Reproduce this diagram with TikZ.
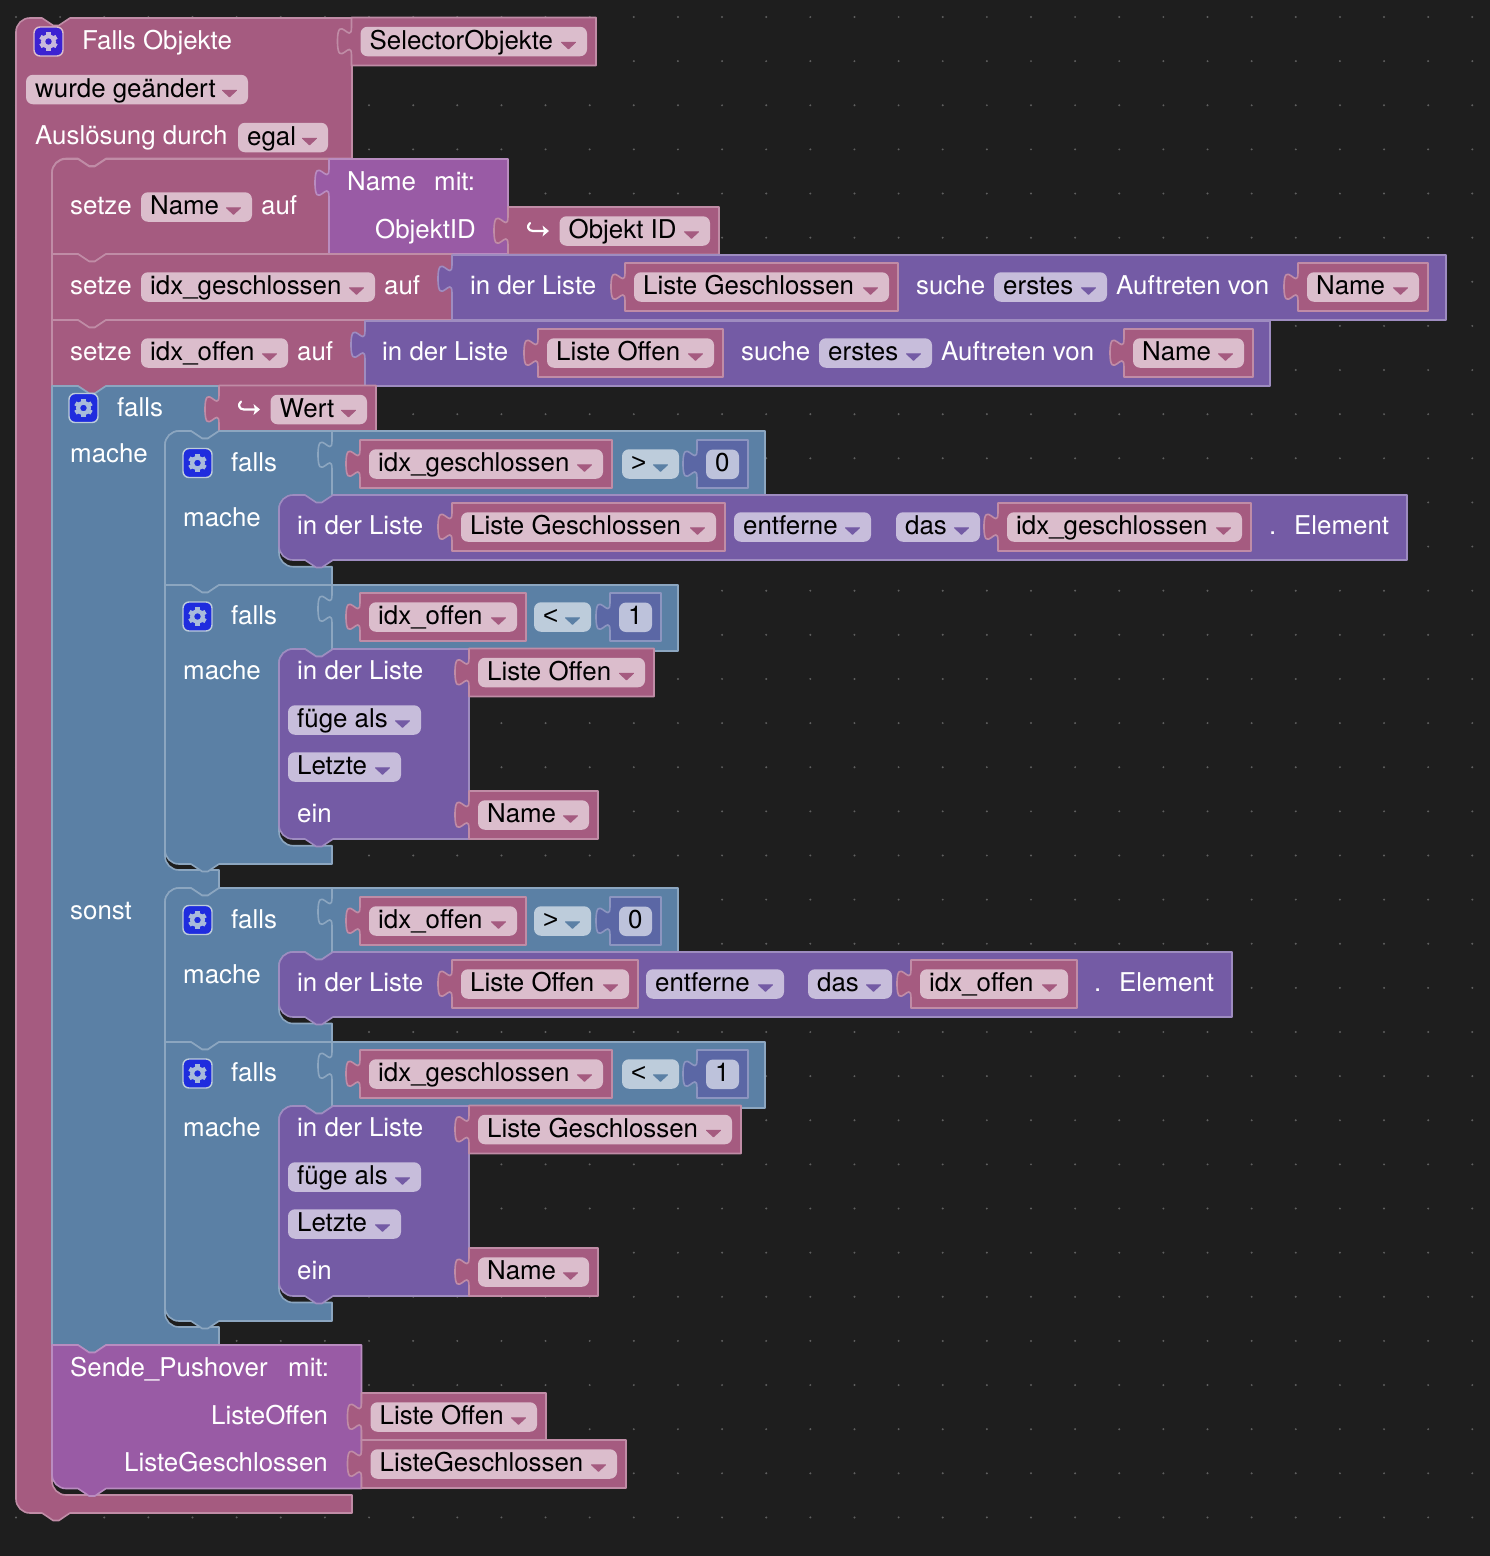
\documentclass[tikz,border=0pt]{standalone}
\usepackage{fontspec}
\setmainfont{TeX Gyre Heros}
\newfontfamily\opfont{Liberation Sans}
\usetikzlibrary{calc}
\definecolor{bgdark}{HTML}{1E1E1E}
\definecolor{griddot}{HTML}{5F5F5F}
\definecolor{pinkF}{HTML}{A55B80}\definecolor{pinkS}{HTML}{C08CA6}\definecolor{pinkL}{HTML}{DBBDCC}
\definecolor{blueF}{HTML}{5B80A5}\definecolor{blueS}{HTML}{8CA6C0}\definecolor{blueL}{HTML}{BDCCDB}
\definecolor{listF}{HTML}{745BA5}\definecolor{listS}{HTML}{9E8CC0}\definecolor{listL}{HTML}{C7BDDB}
\definecolor{procF}{HTML}{995BA5}\definecolor{procS}{HTML}{B98CC0}
\definecolor{numF}{HTML}{5B67A5}\definecolor{numS}{HTML}{8C95C0}\definecolor{numL}{HTML}{BDC2DB}
\definecolor{gearPinkBg}{HTML}{3C22D2}\definecolor{gearPinkFg}{HTML}{C9B9DC}
\definecolor{gearBlueBg}{HTML}{1F2CDE}\definecolor{gearBlueFg}{HTML}{A9BBDA}
\tikzset{
  pinkblock/.style={fill=pinkF,draw=pinkS,line width=1.6pt,line join=round},
  blueblock/.style={fill=blueF,draw=blueS,line width=1.6pt,line join=round},
  listblock/.style={fill=listF,draw=listS,line width=1.6pt,line join=round},
  procblock/.style={fill=procF,draw=procS,line width=1.6pt,line join=round},
  numblock/.style={fill=numF,draw=numS,line width=1.6pt,line join=round},
  labeltext/.style={inner sep=0pt,anchor=base west,text=white,font=\fontsize{25.87}{30}\selectfont},
  fieldtext/.style={inner sep=0pt,anchor=base west,text=black,font=\fontsize{25.87}{30}\selectfont},
}
\newcounter{nodeno}
% Path pieces: connection notches, puzzle tab and corners
\def\NotchR{-- ++(11.2,7.5) -- ++(5.6,0) -- ++(11.2,-7.5)}
\def\NotchL{-- ++(-11.2,7.5) -- ++(-5.6,0) -- ++(-11.2,-7.5)}
\def\TabUp{.. controls +(0,-19) and +(0,29.45) .. ++(-14,-14.25) .. controls +(0,-29.45) and +(0,19) .. ++(14,-14.25)}
\def\TLr#1#2{(#1,#2+14) .. controls +(0,-7.7) and +(-7.7,0) .. ++(14,-14) -- (#1+26,#2)}
\def\TLs#1#2{(#1,#2) -- (#1+26,#2)}
\def\BLr#1#2{-- (#1+54,#2) \NotchL -- (#1+14,#2) .. controls +(-7.7,0) and +(0,7.7) .. ++(-14,-14) -- cycle}
\def\BLs#1#2{-- (#1+54,#2) \NotchL -- (#1,#2) -- cycle}
\def\Gap#1#2#3{-- (#1+54,#2) \NotchL -- (#1+14,#2) .. controls +(-7.7,0) and +(0,-7.7) .. ++(-14,14) -- (#1,#3-14) .. controls +(0,7.7) and +(-7.7,0) .. ++(14,14)}
% Plain statement block: x, top, right, bottom, style, top-left r/s, bottom-left r/s
\newcommand\StmtBlock[7]{%
  \expandafter\let\expandafter\tmpTop\csname TL#6\endcsname
  \expandafter\let\expandafter\tmpBot\csname BL#7\endcsname
  \draw[#5] \tmpTop{#1}{#2} \NotchR -- (#3,#2) -- (#3,#4) \tmpBot{#1}{#4};}
% Value block with a puzzle tab on its left edge
\newcommand\ValBlock[5]{\draw[#5] (#1,#2) -- (#3,#2) -- (#3,#4) -- (#1,#4) -- (#1,#2+38) \TabUp -- cycle;}
% Text
\newcommand\Lbl[3]{\stepcounter{nodeno}\node[labeltext] (n\arabic{nodeno}) at (#1,#2+8) {#3};}
% Dropdown field: left, right, centre y, text, field colour, arrow colour
\newcommand\Fld[6]{%
  \fill[#5,rounded corners=7pt] (#1,#3-14.75) rectangle (#2,#3+14.75);
  \stepcounter{nodeno}\node[fieldtext] (n\arabic{nodeno}) at (#1+9,#3+7.5) {#4};
  \filldraw[#6,line width=1pt,line join=round] (#2-25.5,#3+.8) -- (#2-11.5,#3+.8) -- (#2-18.5,#3+7.3) -- cycle;}
\newcommand\PF[4]{\Fld{#1}{#2}{#3}{#4}{pinkL}{pinkF}}
\newcommand\BF[4]{\Fld{#1}{#2}{#3}{#4}{blueL}{blueF}}
\newcommand\LF[4]{\Fld{#1}{#2}{#3}{#4}{listL}{listF}}
% Variable reporter: left, right, top, name
\newcommand\Var[4]{\ValBlock{#1}{#3}{#2}{#3+48}{pinkblock}\PF{#1+9}{#2-9}{#3+24}{#4}}
% Argument reporter with the return-arrow icon
\newcommand\ArgVar[4]{\ValBlock{#1}{#3}{#2}{#3+47.5}{pinkblock}%
  \draw[white,line width=2.2pt,line cap=round,line join=round] (#1+22,#3+16) .. controls (#1+18.5,#3+19) and (#1+20,#3+24) .. (#1+25,#3+24) -- (#1+36,#3+24);
  \fill[white] (#1+41,#3+24) -- (#1+34.5,#3+18.5) -- (#1+36,#3+24) -- (#1+34.5,#3+29.5) -- cycle;
  \PF{#1+51.5}{#2-9}{#3+24}{#4}}
% Number block: left, top, digit
\newcommand\Num[3]{\ValBlock{#1}{#2}{#1+51}{#2+48}{numblock}%
  \fill[numL,rounded corners=7pt] (#1+9,#2+9.5) rectangle (#1+42,#2+39);
  \stepcounter{nodeno}\node[fieldtext] (n\arabic{nodeno}) at (#1+18,#2+31.5) {#3};}
% Gear button: left, centre y, background colour, gear colour, border colour
\newcommand\Gear[5]{%
  \filldraw[fill=#3,draw=#5,line width=1.4pt,rounded corners=6pt] (#1,#2-14.5) rectangle (#1+29,#2+14.5);
  \draw[#4,line width=4pt] (#1+14.5,#2) circle[radius=5.5pt];
  \foreach \a in {30,90,...,330}{\draw[#4,line width=4.4pt] ($(#1+14.5,#2)+(\a:6pt)$) -- ($(#1+14.5,#2)+(\a:9.3pt)$);}}
\begin{document}
\begin{tikzpicture}[x=1pt,y=-1pt]
\useasboundingbox (0,0) rectangle (1490,1556);
\fill[bgdark] (0,0) rectangle (1490,1556);
% Workspace grid
\foreach \i in {0,...,33}{\foreach \j in {0,...,34}{
  \fill[griddot] (16+44.13*\i,17+44.13*\j) circle[radius=1.1pt];}}

% Event block with its statement area
\draw[pinkblock] \TLr{16}{18} \NotchR -- (352,18) -- (352,158.5) \Gap{52}{158.5}{1495} -- (352,1495) -- (352,1513) \BLr{16}{1513};
\Gear{34}{41.5}{gearPinkBg}{gearPinkFg}{pinkL}
\Lbl{82}{41}{Falls Objekte}
\Var{351.5}{596}{17.5}{SelectorObjekte}
\PF{26}{248}{89.5}{wurde geändert}
\Lbl{35}{136}{Auslösung durch}
\PF{238}{328}{137.5}{egal}

% First assignment
\StmtBlock{52}{159}{329}{254}{pinkblock}{r}{s}
\Lbl{70}{206.5}{setze}
\PF{141}{252}{207}{Name}
\Lbl{261}{206.5}{auf}
\ValBlock{329}{159}{508}{254}{procblock}
\Lbl{347}{182}{Name}
\Lbl{434}{182}{mit:}
\Lbl{375}{230.5}{ObjektID}
\ArgVar{508}{719}{207}{Objekt ID}

% Second assignment
\StmtBlock{52}{254}{452}{320}{pinkblock}{s}{s}
\Lbl{70}{286}{setze}
\PF{141}{375}{287}{idx\_geschlossen}
\Lbl{384}{286}{auf}
\ValBlock{452}{255}{1446}{320}{listblock}
\Lbl{470}{286}{in der Liste}
\Var{625}{898}{263}{Liste Geschlossen}
\Lbl{916}{286}{suche}
\LF{994}{1107}{287}{erstes}
\Lbl{1116}{286}{Auftreten von}
\Var{1298}{1428}{263}{Name}

% Third assignment
\StmtBlock{52}{320}{365}{386}{pinkblock}{s}{s}
\Lbl{70}{352}{setze}
\PF{141}{288}{353}{idx\_offen}
\Lbl{297}{352}{auf}
\ValBlock{365}{321}{1270}{386}{listblock}
\Lbl{382}{352}{in der Liste}
\Var{538}{723}{329}{Liste Offen}
\Lbl{741}{352}{suche}
\LF{819}{932}{353}{erstes}
\Lbl{941}{352}{Auftreten von}
\Var{1124}{1253}{329}{Name}

% Outer if/else
\draw[blueblock] \TLs{52}{386} \NotchR -- (219,386) -- (219,431) \Gap{165}{431}{870} -- (219,870) -- (219,888) \Gap{165}{888}{1327} -- (219,1327) -- (219,1345) \BLs{52}{1345};
\Gear{69}{408}{gearBlueBg}{gearBlueFg}{blueL}
\Lbl{117}{408}{falls}
\Lbl{70}{454}{mache}
\Lbl{70}{911}{sonst}
\ArgVar{219}{376}{385.5}{Wert}

% if idx_geschlossen > 0
\draw[blueblock] \TLr{165}{431} \NotchR -- (332,431) -- (332,495.5) \Gap{279}{495.5}{566.7} -- (332,566.7) -- (332,585) \BLs{165}{585};
\Gear{183}{463}{gearBlueBg}{gearBlueFg}{blueL}
\Lbl{231}{463}{falls}
\Lbl{183}{518}{mache}
\ValBlock{332}{431}{765}{497}{blueblock}
\Var{360}{612}{440}{idx\_geschlossen}
\BF{622}{679}{464}{\opfont >}
\Num{697}{440}{0}
\StmtBlock{279}{495}{1407}{560}{listblock}{r}{r}
\Lbl{297}{526.5}{in der Liste}
\Var{452}{725}{503}{Liste Geschlossen}
\LF{734}{871}{527}{entferne}
\LF{896}{980}{527}{das}
\Var{998}{1251}{503}{idx\_geschlossen}
\Lbl{1269}{526.5}{.}
\Lbl{1294}{526.5}{Element}

% if idx_offen < 1
\draw[blueblock] \TLs{165}{585} \NotchR -- (332,585) -- (332,649) \Gap{279}{649}{845.7} -- (332,845.7) -- (332,864) \BLr{165}{864};
\Gear{183}{616.5}{gearBlueBg}{gearBlueFg}{blueL}
\Lbl{231}{616.5}{falls}
\Lbl{183}{671}{mache}
\ValBlock{332}{585}{678}{651}{blueblock}
\Var{360}{526}{593}{idx\_offen}
\BF{534}{591}{617}{\opfont <}
\Num{610}{593}{1}
\StmtBlock{279}{649}{469}{839}{listblock}{r}{r}
\Lbl{297}{671}{in der Liste}
\Var{469}{654}{648.5}{Liste Offen}
\LF{288}{421}{720}{füge als}
\LF{288}{401}{767}{Letzte}
\Lbl{297}{814.5}{ein}
\Var{469}{598}{791}{Name}

% if idx_offen > 0
\draw[blueblock] \TLr{165}{888} \NotchR -- (332,888) -- (332,952) \Gap{279}{952}{1023.5} -- (332,1023.5) -- (332,1042) \BLs{165}{1042};
\Gear{183}{920}{gearBlueBg}{gearBlueFg}{blueL}
\Lbl{231}{920}{falls}
\Lbl{183}{975}{mache}
\ValBlock{332}{888}{678}{954}{blueblock}
\Var{360}{526}{897}{idx\_offen}
\BF{534}{591}{921}{\opfont >}
\Num{610}{897}{0}
\StmtBlock{279}{952}{1232}{1017}{listblock}{r}{r}
\Lbl{297}{983.5}{in der Liste}
\Var{452}{638}{960}{Liste Offen}
\LF{646}{784}{984}{entferne}
\LF{808}{892}{984}{das}
\Var{911}{1077}{960}{idx\_offen}
\Lbl{1094}{983.5}{.}
\Lbl{1119}{983.5}{Element}

% if idx_geschlossen < 1
\draw[blueblock] \TLs{165}{1042} \NotchR -- (332,1042) -- (332,1106) \Gap{279}{1106}{1302.5} -- (332,1302.5) -- (332,1321) \BLr{165}{1321};
\Gear{183}{1073.5}{gearBlueBg}{gearBlueFg}{blueL}
\Lbl{231}{1073.5}{falls}
\Lbl{183}{1128}{mache}
\ValBlock{332}{1042}{765}{1108}{blueblock}
\Var{360}{612}{1050}{idx\_geschlossen}
\BF{622}{679}{1074}{\opfont <}
\Num{697}{1050}{1}
\StmtBlock{279}{1106}{469}{1296}{listblock}{r}{r}
\Lbl{297}{1128}{in der Liste}
\Var{469}{741}{1105.5}{Liste Geschlossen}
\LF{288}{421}{1177}{füge als}
\LF{288}{401}{1224}{Letzte}
\Lbl{297}{1271.5}{ein}
\Var{469}{598}{1248}{Name}

% Procedure call
\StmtBlock{52}{1345}{361.5}{1488.5}{procblock}{s}{r}
\Lbl{70}{1368.7}{Sende\_Pushover}
\Lbl{288}{1368.7}{mit:}
\Lbl{211}{1416}{ListeOffen}
\Lbl{124}{1463.7}{ListeGeschlossen}
\Var{361.5}{546}{1393}{Liste Offen}
\Var{361.5}{626}{1440}{ListeGeschlossen}
\end{tikzpicture}
\end{document}
